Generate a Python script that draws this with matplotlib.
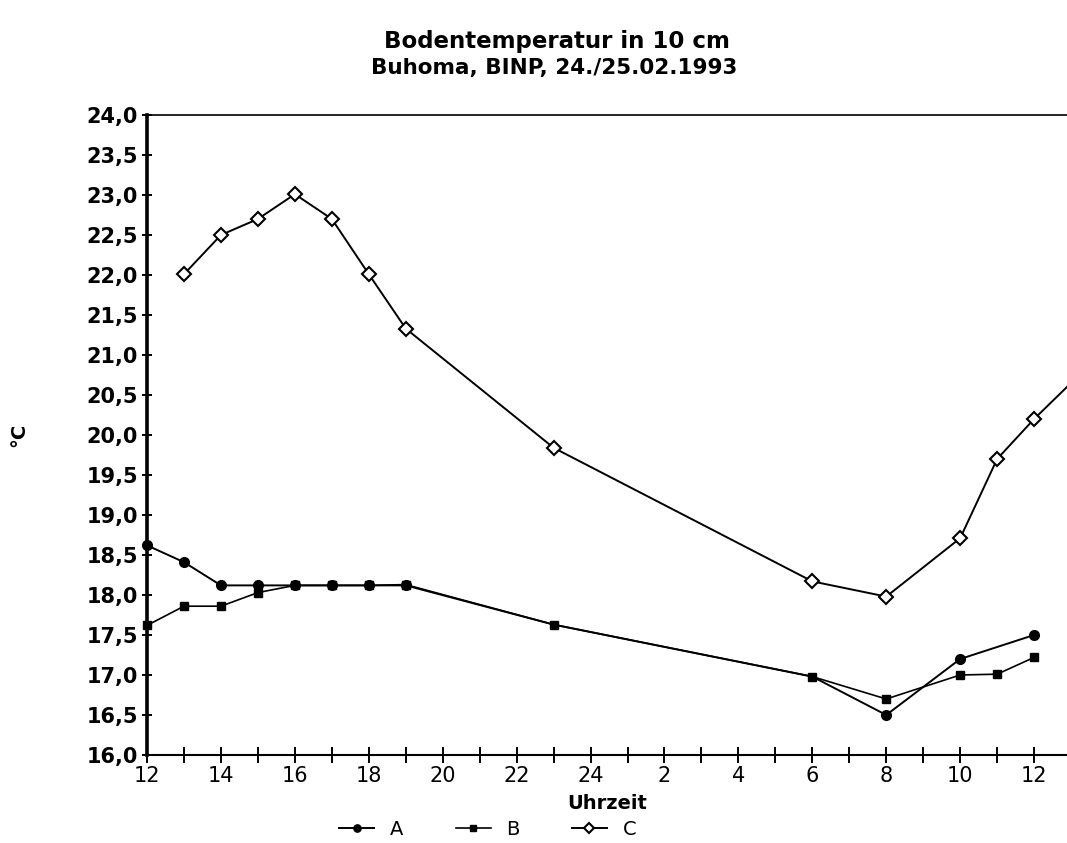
import matplotlib
matplotlib.use("Agg")
import matplotlib.pyplot as plt
from matplotlib.ticker import MultipleLocator, FixedLocator

# hours since 12:00 on 24.02. (0 = 12 Uhr, 24 = 12 Uhr am 25.02.)
hoursA = [0, 1, 2, 3, 4, 5, 6, 7, 11, 18, 20, 22, 24]
tempA = [18.62, 18.41, 18.12, 18.12, 18.12, 18.12, 18.12, 18.12, 17.63, 16.98, 16.50, 17.20, 17.50]

hoursB = [0, 1, 2, 3, 4, 5, 6, 7, 11, 18, 20, 22, 23, 24]
tempB = [17.62, 17.86, 17.86, 18.03, 18.12, 18.12, 18.12, 18.13, 17.63, 16.98, 16.70, 17.00, 17.01, 17.22]

hoursC = [1, 2, 3, 4, 5, 6, 7, 11, 18, 20, 22, 23, 24, 25]
tempC = [22.01, 22.50, 22.70, 23.01, 22.70, 22.01, 21.33, 19.84, 18.17, 17.98, 18.71, 19.70, 20.20, 20.65]

tickPos = list(range(0, 25, 2))
tickLabels = ["12", "14", "16", "18", "20", "22", "24", "2", "4", "6", "8", "10", "12"]
yTicks = [16.0 + 0.5 * i for i in range(17)]

fig = plt.figure(figsize=(10.67, 8.43), dpi=100)
ax = fig.add_axes([0.1378, 0.1044, 0.8622, 0.7592])

# A markers hidden where A lies under B (23 and 6 Uhr)
markA = [i for i in range(len(hoursA)) if i not in (8, 9)]
ax.plot(hoursA, tempA, color="black", lw=1.4, marker="o", ms=7, mfc="black", label="A",
        markevery=markA, clip_on=False, zorder=3)
ax.plot(hoursB, tempB, color="black", lw=1.2, marker="s", ms=6, mfc="black", label="B", clip_on=False, zorder=4)
ax.plot(hoursC, tempC, color="black", lw=1.4, marker="D", ms=7, mfc="white", mew=1.5, label="C",
        markevery=list(range(len(hoursC) - 1)), zorder=3)

ax.set_xlim(0, 24.89)
ax.set_ylim(16, 24)

ax.xaxis.set_major_locator(FixedLocator(tickPos))
ax.set_xticklabels(tickLabels, fontsize=15)
ax.xaxis.set_minor_locator(MultipleLocator(1))
ax.set_yticks(yTicks)
ax.set_yticklabels([("%.1f" % v).replace(".", ",") for v in yTicks], fontsize=15, fontweight="bold")

ax.tick_params(axis="x", which="both", direction="inout", length=12, width=1.4, pad=2)
ax.tick_params(axis="y", direction="inout", length=7, width=1.4, pad=3)

ax.spines["right"].set_visible(False)
ax.spines["left"].set_linewidth(2.6)
ax.spines["bottom"].set_linewidth(1.5)
ax.spines["top"].set_linewidth(1.2)

ax.set_xlabel("Uhrzeit", fontsize=14, fontweight="bold", labelpad=6)
fig.text(0.018, 0.484, "°C", rotation=90, fontsize=14, fontweight="bold", ha="center", va="center")

fig.text(0.522, 0.951, "Bodentemperatur in 10 cm", fontsize=16.5, fontweight="bold", ha="center", va="center")
fig.text(0.519, 0.919, "Buhoma, BINP, 24./25.02.1993", fontsize=15.5, fontweight="bold", ha="center", va="center")

fig.legend(loc="center", bbox_to_anchor=(0.457, 0.016), ncol=3, frameon=False,
           fontsize=14, handlelength=1.8, handletextpad=0.8, columnspacing=2.7, markerscale=0.75)

plt.savefig("out.png", dpi=100)
